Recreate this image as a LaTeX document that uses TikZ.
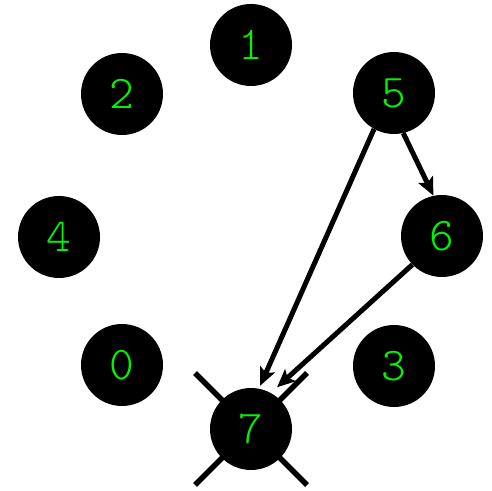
\documentclass[tikz,border=0pt]{standalone}
\usepackage{fontspec}
\newfontfamily\monofont{Latin Modern Mono Light}
\usetikzlibrary{arrows.meta,calc}
\definecolor{digitgreen}{RGB}{0,245,0}
\begin{document}
\begin{tikzpicture}[x=1pt,y=1pt,
  vert/.style={circle,fill=black,minimum size=82pt,inner sep=0pt,
    text=digitgreen,font=\monofont\fontsize{47}{47}\selectfont},
  edge/.style={line width=5pt,-{Stealth[length=18pt,width=16pt,inset=4pt]}},
  crossline/.style={line width=5.5pt}]
\useasboundingbox (0,0) rectangle (492,490);
\coordinate (c7) at (251,61);
\coordinate (xa) at ($(c7)+(-56,56)$);
\coordinate (xb) at ($(c7)+(56,-56)$);
\coordinate (xc) at ($(c7)+(56,56)$);
\coordinate (xd) at ($(c7)+(-56,-56)$);
\draw[crossline] (xa) -- (xb);
\draw[crossline] (xc) -- (xd);
\node[vert] (n1) at (251,445) {1};
\node[vert] (n2) at (122,396) {2};
\node[vert] (n5) at (394,397) {5};
\node[vert] (n4) at (59,253) {4};
\node[vert] (n6) at (442,254) {6};
\node[vert] (n0) at (122,125) {0};
\node[vert] (n3) at (394,124) {3};
\node[vert] (n7) at (c7) {7};
\draw[edge] (n5.241) -- ([shift={(78:3pt)}]n7.78);
\draw[edge] (n5.283) -- (n6.102);
\draw[edge] (n6.224) -- ([shift={(58:8pt)}]n7.58);
\end{tikzpicture}
\end{document}
